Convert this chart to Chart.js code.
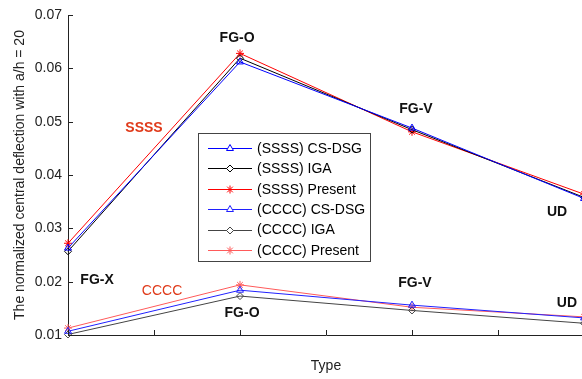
<!DOCTYPE html>
<html>
<head>
<meta charset="utf-8">
<script src="https://cdn.jsdelivr.net/npm/chart.js@4/dist/chart.umd.min.js"></script>
<style>
  html, body { margin: 0; padding: 0; background: #fff; overflow: hidden; }
  #wrap { width: 582px; height: 379px; overflow: hidden; }
</style>
</head>
<body>
<div id="wrap"><canvas id="myChart" width="590" height="379"></canvas></div>
<script>
// x positions of the four FG types
const typeX = [1, 2, 3, 4];

const ssssCsDsg = [0.0263, 0.0612, 0.0488, 0.0356];
const ssssIga = [0.0257, 0.0619, 0.0485, 0.0358];
const ssssPresent = [0.0272, 0.0628, 0.0481, 0.0364];
const ccccCsDsg = [0.0107, 0.0184, 0.0156, 0.0132];
const ccccIga = [0.0101, 0.0173, 0.0146, 0.0122];
const ccccPresent = [0.0113, 0.0194, 0.0152, 0.0134];

const seriesNames = [
    "(SSSS) CS-DSG", "(SSSS) IGA", "(SSSS) Present",
    "(CCCC) CS-DSG", "(CCCC) IGA", "(CCCC) Present"
];

// text labels placed in data coordinates
const noteText = ["FG-O", "FG-V", "UD", "SSSS", "FG-X", "CCCC", "FG-O", "FG-V", "UD"];
const noteX = [1.983, 3.023, 3.843, 1.442, 1.169, 1.547, 2.012, 3.017, 3.901];
const noteY = [0.0656, 0.0524, 0.0331, 0.0488, 0.0203, 0.0183, 0.0141, 0.0198, 0.0160];

const yTicks = [0.01, 0.02, 0.03, 0.04, 0.05, 0.06, 0.07];
const xTicks = [1, 1.5, 2, 2.5, 3, 3.5, 4];

const FONT = "'Liberation Sans', Arial, sans-serif";

const toPoints = (arr) => arr.map((v, i) => ({ x: typeX[i], y: v }));

const makeSet = (label, data, color, style) => ({
    label: label,
    data: toPoints(data),
    borderColor: color,
    backgroundColor: "rgba(0,0,0,0)",
    borderWidth: 1,
    pointStyle: style,
    pointRadius: style === "rectRot" ? 3.5 : 4,
    pointBorderColor: color,
    pointBorderWidth: 1,
    pointBackgroundColor: "rgba(0,0,0,0)",
    tension: 0,
    clip: false
});

const extras = {
    id: "extras",
    afterDatasetsDraw(chart) {
        const ctx = chart.ctx;
        const xs = chart.scales.x;
        const ys = chart.scales.y;
        const area = chart.chartArea;
        ctx.save();

        // inward tick marks
        ctx.strokeStyle = "#222";
        ctx.lineWidth = 1;
        ctx.beginPath();
        xTicks.forEach(t => {
            const px = Math.round(xs.getPixelForValue(t)) + 0.5;
            ctx.moveTo(px, area.bottom);
            ctx.lineTo(px, area.bottom - 5);
        });
        yTicks.forEach(t => {
            const py = Math.round(ys.getPixelForValue(t)) + 0.5;
            ctx.moveTo(area.left, py);
            ctx.lineTo(area.left + 5, py);
        });
        ctx.stroke();

        // annotations
        ctx.textAlign = "center";
        ctx.textBaseline = "middle";
        noteText.forEach((t, i) => {
            const isCase = t === "SSSS" || t === "CCCC";
            ctx.fillStyle = isCase ? "#e03a1a" : "#111";
            ctx.font = (t === "CCCC" ? "" : "bold ") + "14px " + FONT;
            ctx.fillText(t, xs.getPixelForValue(noteX[i]), ys.getPixelForValue(noteY[i]));
        });

        // legend box
        const bx = 198.5, by = 133.5, bw = 172, bh = 128;
        ctx.fillStyle = "#fff";
        ctx.fillRect(bx, by, bw, bh);
        ctx.strokeStyle = "#444";
        ctx.strokeRect(bx, by, bw, bh);
        ctx.font = "14px " + FONT;
        ctx.textAlign = "left";
        chart.data.datasets.forEach((ds, i) => {
            const ry = 148 + i * 20.4;
            const py = Math.round(ry) + 0.5;
            ctx.strokeStyle = ds.borderColor;
            ctx.lineWidth = 1;
            ctx.beginPath();
            ctx.moveTo(208, py);
            ctx.lineTo(252, py);
            ctx.stroke();
            ctx.fillStyle = "#fff";
            Chart.helpers.drawPoint(ctx, {
                pointStyle: ds.pointStyle,
                radius: ds.pointRadius,
                rotation: 0,
                borderWidth: 1
            }, 230, py);
            ctx.fillStyle = "#000";
            ctx.fillText(ds.label, 257, ry + 1);
        });
        ctx.restore();
    }
};

new Chart(document.getElementById("myChart"), {
    type: "line",
    data: {
        datasets: [
            makeSet(seriesNames[0], ssssCsDsg, "#0000ff", "triangle"),
            makeSet(seriesNames[1], ssssIga, "#000000", "rectRot"),
            makeSet(seriesNames[2], ssssPresent, "#ff0000", "star"),
            makeSet(seriesNames[3], ccccCsDsg, "#2020ff", "triangle"),
            makeSet(seriesNames[4], ccccIga, "#444444", "rectRot"),
            makeSet(seriesNames[5], ccccPresent, "#ff5a5a", "star")
        ]
    },
    options: {
        responsive: false,
        animation: false,
        devicePixelRatio: 1,
        layout: { padding: { top: 15, right: 6, left: 0, bottom: 0 } },
        scales: {
            x: {
                type: "linear",
                min: 1,
                max: 4,
                grid: { display: false, drawTicks: false },
                border: { display: true, color: "#222" },
                ticks: { display: false },
                title: {
                    display: true,
                    text: "Type",
                    color: "#222",
                    font: { family: FONT, size: 14 },
                    padding: { top: 0, bottom: 4 }
                },
                afterFit: (scale) => { scale.height = 44; }
            },
            y: {
                min: 0.01,
                max: 0.07,
                grid: { display: false, drawTicks: false },
                border: { display: true, color: "#222" },
                ticks: {
                    stepSize: 0.01,
                    color: "#222",
                    padding: 6,
                    font: { family: FONT, size: 14 },
                    callback: (v) => v.toFixed(2)
                },
                title: {
                    display: true,
                    text: "The normalized central deflection with a/h = 20",
                    color: "#222",
                    font: { family: FONT, size: 14 },
                    padding: { top: 12, bottom: 0 }
                },
                afterFit: (scale) => { scale.width = 68; }
            }
        },
        plugins: {
            legend: { display: false },
            tooltip: { enabled: false }
        }
    },
    plugins: [extras]
});
</script>
</body>
</html>
